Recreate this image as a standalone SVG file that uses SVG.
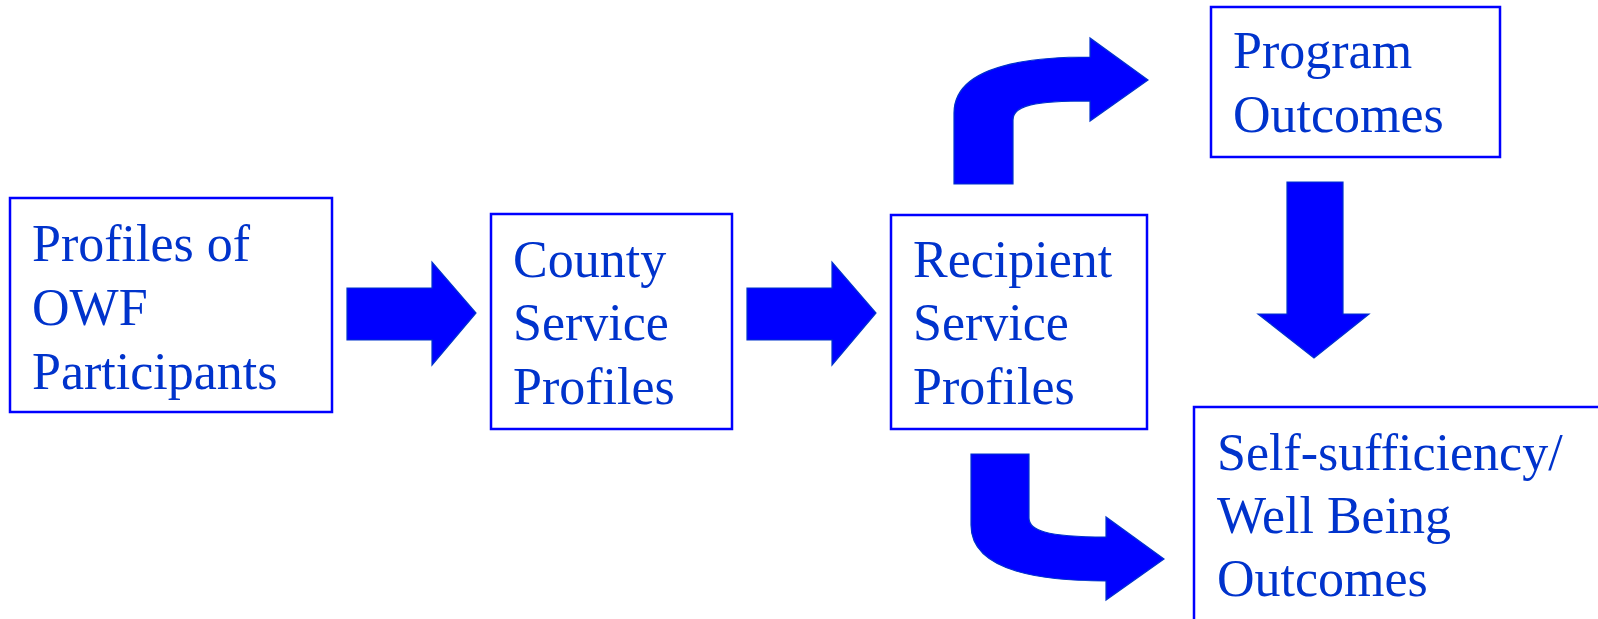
<svg xmlns="http://www.w3.org/2000/svg" width="1598" height="619" viewBox="0 0 1598 619">
<style>
.box{fill:#fff;stroke:#0000ff;stroke-width:2.5}
.t{font-family:"Liberation Serif","Times New Roman",serif;font-size:52px;fill:#0033cc}
.arr{fill:#0000ff;stroke:#0033cc;stroke-width:1.2;stroke-linejoin:miter}
</style>
<rect width="1598" height="619" fill="#fff"/>
<g id="connectors">
<path class="arr" d="M347,288 H432 V262 L476,313 L432,365 V340 H347 Z"/>
<path class="arr" d="M747,288 H832 V262 L876,313 L832,365 V340 H747 Z"/>
<path class="arr" d="M954,184 V113 C954,80 990,57 1090,57 V38 L1148,80 L1090,121 V101 C1035,101 1013,105 1013,120 V184 Z"/>
<path class="arr" d="M971,454 H1029 V518 C1029,530 1045,537 1106,537 V517 L1164,559 L1106,600 V581 C1000,581 971,555 971,525 Z"/>
<path class="arr" d="M1287,182 H1343 V314 H1369 L1314,358 L1258,314 H1287 Z"/>
</g>
<g id="n1">
<rect class="box" x="10" y="198" width="322" height="214"/>
<text class="t" x="32" y="261">Profiles of</text>
<text class="t" x="32" y="325">OWF</text>
<text class="t" x="32" y="389">Participants</text>
</g>
<g id="n2">
<rect class="box" x="491" y="214" width="241" height="215"/>
<text class="t" x="513" y="277">County</text>
<text class="t" x="513" y="340">Service</text>
<text class="t" x="513" y="404">Profiles</text>
</g>
<g id="n3">
<rect class="box" x="891" y="215" width="256" height="214"/>
<text class="t" x="913" y="277">Recipient</text>
<text class="t" x="913" y="340">Service</text>
<text class="t" x="913" y="404">Profiles</text>
</g>
<g id="n4">
<rect class="box" x="1211" y="7" width="289" height="150"/>
<text class="t" x="1233" y="68">Program</text>
<text class="t" x="1233" y="132">Outcomes</text>
</g>
<g id="n5">
<rect class="box" x="1194" y="407" width="420" height="250"/>
<text class="t" x="1217" y="470">Self-sufficiency/</text>
<text class="t" x="1217" y="533">Well Being</text>
<text class="t" x="1217" y="596">Outcomes</text>
</g>
</svg>
